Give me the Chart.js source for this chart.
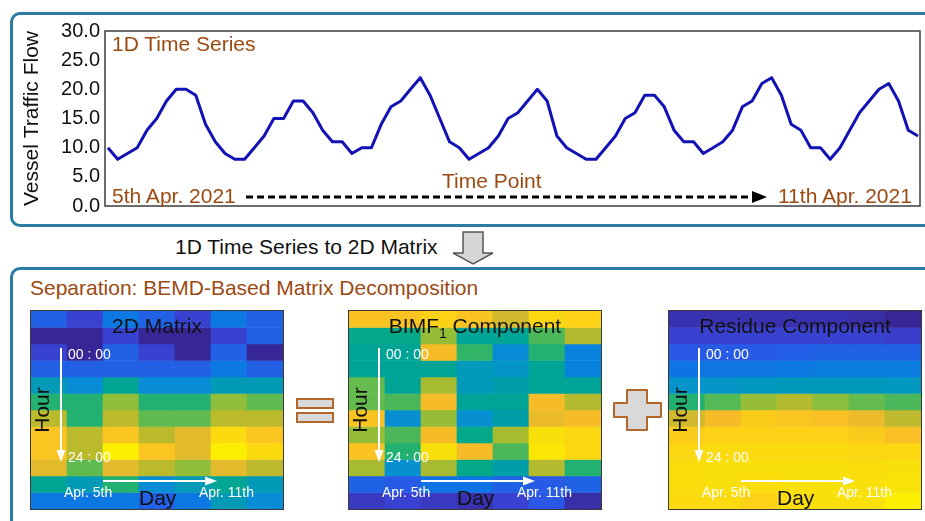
<!DOCTYPE html>
<html>
<head>
<meta charset="utf-8">
<script src="https://cdn.jsdelivr.net/npm/chart.js@4.4.1/dist/chart.umd.min.js"></script>
<style>
  html, body { margin:0; padding:0; background:#fff; }
  body { width:925px; height:521px; position:relative; overflow:hidden; font-family:"Liberation Sans", Arial, sans-serif; }
  .box { position:absolute; box-sizing:border-box; border:3px solid #2b7ca3; border-radius:10px; }
  .t { position:absolute; white-space:nowrap; line-height:1; font-size:21px; color:#111; }
  .brown { color:#9b4a12; }
  .w { color:#fff; font-size:14px; }
  .panel { position:absolute; top:310px; width:252px; height:198px; border:1px solid #3a3a3a; }
  .panel canvas { position:absolute; left:0; top:0; }
  svg { position:absolute; left:0; top:0; overflow:visible; }
  #line { position:absolute; left:16px; top:14px; }
</style>
</head>
<body>
<div class="box" style="left:10px;top:12px;width:935px;height:215px;"></div>
<div class="box" style="left:10px;top:267px;width:935px;height:300px;"></div>

<canvas id="line" width="909" height="209"></canvas>

<div class="t brown" style="left:112px;top:33px;">1D Time Series</div>
<div class="t brown" style="left:112px;top:185px;">5th Apr. 2021</div>
<div class="t brown" style="left:442px;top:170px;">Time Point</div>
<div class="t brown" style="left:778px;top:185px;">11th Apr. 2021</div>
<div class="t" style="left:175px;top:236px;">1D Time Series to 2D Matrix</div>
<div class="t brown" style="left:30px;top:277px;">Separation: BEMD-Based Matrix Decomposition</div>

<svg width="925" height="521">
  <line x1="246" y1="197" x2="752" y2="197" stroke="#000" stroke-width="3" stroke-dasharray="7 4"/>
  <polygon points="752,191 752,203 767,197" fill="#000"/>
  <polygon points="463,232 483,232 483,253 493,253 473,264 453,253 463,253" fill="#d6d6d6" stroke="#555" stroke-width="1.5"/>
  <rect x="297" y="399" width="36" height="9" fill="#d9d9d9" stroke="#b3672b" stroke-width="2"/>
  <rect x="297" y="413" width="36" height="9" fill="#d9d9d9" stroke="#b3672b" stroke-width="2"/>
  <polygon points="627,390 647,390 647,403 661,403 661,417 647,417 647,430 627,430 627,417 614,417 614,403 627,403" fill="#d9d9d9" stroke="#b3672b" stroke-width="2" stroke-linejoin="round"/>
</svg>

<script>
// vessel traffic flow, every 2 hours, 5th - 11th Apr. 2021
const series = [
  10, 8, 9,10,13,15,18,20,20,19,14,11,
   9, 8, 8,10,12,15,15,18,18,16,13,11,
  11, 9,10,10,14,17,18,20,22,19,15,11,
  10, 8, 9,10,12,15,16,18,20,18,12,10,
   9, 8, 8,10,12,15,16,19,19,17,13,11,
  11, 9,10,11,13,17,18,21,22,19,14,13,
  10,10, 8,10,13,16,18,20,21,18,13,12
];
const yTicks = [0, 5, 10, 15, 20, 25, 30];
const days = ['Apr. 5th','Apr. 6th','Apr. 7th','Apr. 8th','Apr. 9th','Apr. 10th','Apr. 11th'];

// BIMF1 component (colour level 0..1), rows = hours, cols = days
const bimfRows = [
  [0.85,0.85,0.90,0.85,0.75,0.92,0.90],
  [0.45,0.45,0.65,0.42,0.42,0.55,0.70],
  [0.42,0.42,0.82,0.52,0.28,0.50,0.25],
  [0.42,0.42,0.42,0.35,0.33,0.42,0.25],
  [0.58,0.42,0.68,0.35,0.38,0.42,0.42],
  [0.58,0.55,0.82,0.42,0.42,0.82,0.70],
  [0.85,0.30,0.65,0.30,0.38,0.80,0.82],
  [0.65,0.55,0.82,0.45,0.68,0.95,0.92],
  [0.85,0.50,0.95,0.82,0.55,0.97,0.92],
  [0.68,0.30,0.68,0.45,0.38,0.70,0.50],
  [0.15,0.13,0.20,0.20,0.15,0.13,0.15],
  [0.05,0.07,0.05,0.03,0.07,0.12,0.02]
];
// residue component (colour level 0..1)
const residueRows = [
  [0.03,0.03,0.03,0.03,0.03,0.02,0.00],
  [0.07,0.07,0.07,0.07,0.07,0.07,0.06],
  [0.12,0.13,0.13,0.14,0.15,0.15,0.15],
  [0.20,0.21,0.21,0.22,0.23,0.23,0.23],
  [0.32,0.33,0.34,0.35,0.35,0.35,0.34],
  [0.50,0.56,0.65,0.70,0.63,0.58,0.55],
  [0.75,0.82,0.88,0.86,0.84,0.80,0.72],
  [0.88,0.90,0.90,0.90,0.90,0.88,0.84],
  [0.92,0.93,0.93,0.93,0.93,0.92,0.92],
  [0.94,0.95,0.95,0.95,0.95,0.94,0.95],
  [0.94,0.95,0.94,0.95,0.95,0.95,0.96],
  [0.93,0.93,0.90,0.94,0.95,0.95,1.00]
];

const FONT = '"Liberation Sans", Arial, sans-serif';

// parula-like colormap (a little more saturated, as printed)
const parula = [
  [0,[55,38,150]],[4,[58,62,205]],[8,[40,90,230]],[12,[15,112,228]],[16,[8,132,220]],
  [20,[5,148,205]],[24,[0,158,168]],[28,[0,168,140]],[32,[40,178,110]],[36,[95,186,80]],
  [40,[140,190,60]],[44,[178,186,45]],[48,[215,185,45]],[52,[248,188,40]],[56,[252,205,25]],
  [60,[250,225,10]],[63,[252,240,0]]
];
function cmap(t) {
  t = Math.max(0, Math.min(1, t)) * 63;
  let i = 0;
  while (i < parula.length - 2 && parula[i + 1][0] < t) i++;
  const [p0, a] = parula[i], [p1, b] = parula[i + 1];
  const u = (t - p0) / (p1 - p0);
  return 'rgb(' + a.map((c, k) => Math.round(c + (b[k] - c) * u)).join(',') + ')';
}

const frame = {
  id: 'frame',
  beforeDatasetsDraw(chart) {
    const a = chart.chartArea, ctx = chart.ctx;
    ctx.save();
    ctx.strokeStyle = '#3c3c3c';
    ctx.lineWidth = 1.5;
    ctx.strokeRect(a.left, a.top, a.right - a.left, a.bottom - a.top);
    ctx.restore();
  }
};

new Chart(document.getElementById('line'), {
  type: 'line',
  data: {
    datasets: [{
      data: series.map((v, i) => ({ x: i, y: v })),
      borderColor: '#1212b4',
      borderWidth: 3,
      borderJoinStyle: 'round',
      pointRadius: 0,
      tension: 0,
      fill: false
    }]
  },
  options: {
    responsive: false,
    animation: false,
    events: [],
    layout: { padding: { top: 14, bottom: 14, right: 5, left: 0 } },
    plugins: { legend: { display: false }, tooltip: { enabled: false } },
    scales: {
      x: { type: 'linear', min: -0.3, max: 83.2, display: false },
      y: {
        min: 0, max: 30,
        afterBuildTicks: s => { s.ticks = yTicks.map(v => ({ value: v })); },
        ticks: { padding: 5, color: '#111', font: { family: FONT, size: 20 }, callback: v => v.toFixed(1) },
        grid: { display: false, drawTicks: false },
        border: { display: false },
        title: { display: true, text: 'Vessel Traffic Flow', color: '#111', font: { family: FONT, size: 21 }, padding: { top: 4, bottom: 0 } },
        afterFit: s => { s.width = 89; }
      }
    }
  },
  plugins: [frame]
});

// 1D series -> 2D matrix (rows = 2-hour slots, cols = days)
const matrixRows = [];
for (let r = 0; r < 12; r++) matrixRows.push(days.map((d, c) => series[c * 12 + r]));

function panel(left, title, rows, lo, hi) {
  const p = document.createElement('div');
  p.className = 'panel';
  p.style.left = left + 'px';
  p.innerHTML =
    '<canvas width="252" height="198"></canvas>' +
    '<svg width="252" height="198">' +
      '<line x1="30" y1="37" x2="30" y2="141" stroke="#fff" stroke-width="2"/>' +
      '<polygon points="25.5,139 34.5,139 30,151" fill="#fff"/>' +
      '<line x1="72" y1="170" x2="176" y2="170" stroke="#fff" stroke-width="2"/>' +
      '<polygon points="174,165.5 174,174.5 186,170" fill="#fff"/>' +
    '</svg>' +
    '<div class="t" style="left:0;width:252px;text-align:center;top:4px;">' + title + '</div>' +
    '<div class="t w" style="left:37px;top:36px;">00 : 00</div>' +
    '<div class="t w" style="left:37px;top:139px;">24 : 00</div>' +
    '<div class="t w" style="left:33px;top:174px;">Apr. 5th</div>' +
    '<div class="t w" style="left:168px;top:174px;">Apr. 11th</div>' +
    '<div class="t" style="left:108px;top:176px;">Day</div>' +
    '<div class="t" style="left:10px;top:99px;transform:translate(-50%,-50%) rotate(-90deg);">Hour</div>';
  document.body.appendChild(p);
  new Chart(p.querySelector('canvas'), {
    type: 'bar',
    data: {
      labels: days,
      datasets: rows.map(row => ({
        data: row.map(() => 1),
        backgroundColor: row.map(v => cmap((v - lo) / (hi - lo))),
        borderWidth: 0,
        barPercentage: 1,
        categoryPercentage: 1
      }))
    },
    options: {
      responsive: false,
      animation: false,
      events: [],
      layout: { padding: 0 },
      plugins: { legend: { display: false }, tooltip: { enabled: false } },
      scales: {
        x: { display: false, stacked: true },
        y: { display: false, stacked: true, reverse: true, min: 0, max: 12 }
      }
    }
  });
}

panel(30, '2D Matrix', matrixRows, 8, 22);
panel(348, 'BIMF<sub style="font-size:14px;">1</sub> Component', bimfRows, 0, 1);
panel(668, 'Residue Component', residueRows, 0, 1);
</script>
</body>
</html>
